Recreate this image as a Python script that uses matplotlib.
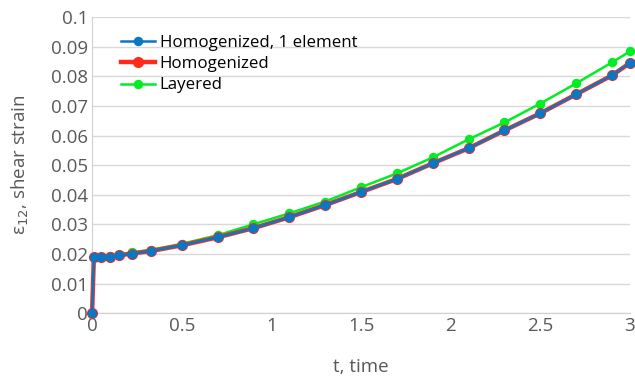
import numpy as np
import matplotlib.pyplot as plt

# time points (s) and shear strain values
t = [0, 0.01, 0.05, 0.1, 0.15, 0.22, 0.33, 0.5, 0.7, 0.9, 1.1, 1.3, 1.5,
     1.7, 1.9, 2.1, 2.3, 2.5, 2.7, 2.9, 3.0]
homog_1el = [0, 0.0189, 0.0189, 0.0190, 0.0195, 0.0201, 0.0210, 0.0229,
             0.0256, 0.0287, 0.0324, 0.0365, 0.0409, 0.0453, 0.0506,
             0.0557, 0.0617, 0.0675, 0.0739, 0.0803, 0.0845]
homog = [0, 0.0189, 0.0189, 0.0190, 0.0195, 0.0201, 0.0210, 0.0229,
         0.0256, 0.0287, 0.0324, 0.0365, 0.0409, 0.0453, 0.0506,
         0.0557, 0.0617, 0.0675, 0.0739, 0.0803, 0.0845]
layered = [0, 0.0190, 0.0191, 0.0193, 0.0198, 0.0205, 0.0214, 0.0234,
           0.0263, 0.0300, 0.0337, 0.0377, 0.0425, 0.0472, 0.0526,
           0.0587, 0.0644, 0.0708, 0.0776, 0.0847, 0.0884]

plt.rcParams['font.family'] = ['Open Sans', 'DejaVu Sans']
grey = '#595959'

fig = plt.figure(figsize=(6.35, 3.8), dpi=100)
ax = fig.add_axes([0.145, 0.176, 0.847, 0.779])

ax.plot(t, layered, color='#00EE22', lw=1.8, marker='o', ms=5.8,
        label='Layered', zorder=3, clip_on=False)
ax.plot(t, homog, color='#FF2A1A', lw=3.2, marker='o', ms=7,
        label='Homogenized', zorder=4, clip_on=False)
ax.plot(t, homog_1el, color='#0A77C4', lw=1.8, marker='o', ms=5.8,
        label='Homogenized, 1 element', zorder=5, clip_on=False)

ax.set_xlim(0, 3)
ax.set_ylim(0, 0.1)
ax.set_xticks(np.arange(0, 3.01, 0.5))
ax.set_xticklabels(['0', '0.5', '1', '1.5', '2', '2.5', '3'])
ax.set_yticks(np.arange(0, 0.1001, 0.01))
ax.set_yticklabels(['0', '0.01', '0.02', '0.03', '0.04', '0.05', '0.06',
                    '0.07', '0.08', '0.09', '0.1'])
ax.tick_params(length=0, labelsize=13.5, colors=grey, pad=3)
ax.grid(axis='y', color='#D9D9D9', lw=1)
ax.set_axisbelow(True)
for s in ['top', 'right']:
    ax.spines[s].set_visible(False)
for s in ['left', 'bottom']:
    ax.spines[s].set_color('#D0D0D0')
    ax.spines[s].set_zorder(1)

ax.set_xlabel('t, time', fontsize=13.5, color=grey, labelpad=16)
ax.set_ylabel('ε$_{12}$, shear strain', fontsize=13.5, color=grey, labelpad=14)

h, l = ax.get_legend_handles_labels()
ax.legend(h[::-1], l[::-1], loc='upper left', bbox_to_anchor=(0.025, 0.99),
          frameon=False, fontsize=12.2, handlelength=2.0, labelspacing=0.3,
          handletextpad=0.3)

fig.savefig('out.png', dpi=100)
